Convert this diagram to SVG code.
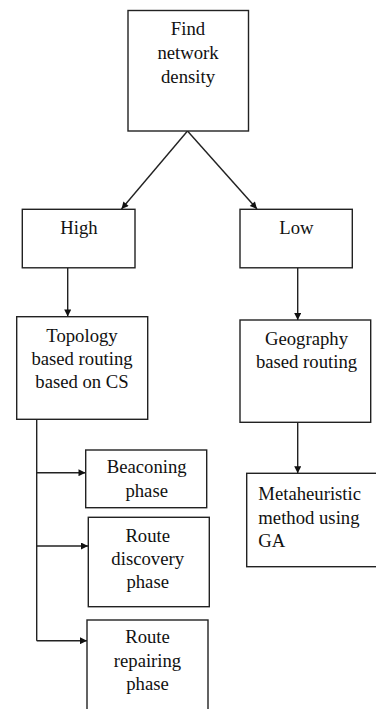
<svg xmlns="http://www.w3.org/2000/svg" width="376" height="709" viewBox="0 0 376 709">
<style>
.box{fill:#fff;stroke:#222;stroke-width:1.4}
.t{font-family:"Liberation Serif","Times New Roman",serif;font-size:18.7px;fill:#111;text-anchor:middle}
.l{text-anchor:start}
.c{fill:none;stroke:#222;stroke-width:1.4}
</style>
<defs>
<marker id="ah" viewBox="0 0 10 10" refX="10" refY="5" markerWidth="9" markerHeight="7" markerUnits="userSpaceOnUse" orient="auto">
<path d="M0,0 L10,5 L0,10 Z" fill="#111"/>
</marker>
</defs>
<rect width="376" height="709" fill="#fff"/>
<g id="connectors">
<line class="c" x1="187.5" y1="131" x2="121.5" y2="209" marker-end="url(#ah)"/>
<line class="c" x1="187.5" y1="131" x2="257" y2="209" marker-end="url(#ah)"/>
<line class="c" x1="67.7" y1="268" x2="67.7" y2="316.5" marker-end="url(#ah)"/>
<line class="c" x1="297.7" y1="268" x2="297.7" y2="320" marker-end="url(#ah)"/>
<line class="c" x1="297.7" y1="422" x2="297.7" y2="473.3" marker-end="url(#ah)"/>
<polyline class="c" points="36.7,419.3 36.7,640.7"/>
<line class="c" x1="36.7" y1="472.7" x2="85.5" y2="472.7" marker-end="url(#ah)"/>
<line class="c" x1="36.7" y1="546" x2="88" y2="546" marker-end="url(#ah)"/>
<line class="c" x1="36.7" y1="640.7" x2="87" y2="640.7" marker-end="url(#ah)"/>
</g>
<g id="find">
<rect class="box" x="128" y="10.5" width="120.5" height="120.5"/>
<text class="t" x="188" y="35">Find</text>
<text class="t" x="188" y="59">network</text>
<text class="t" x="188" y="83">density</text>
</g>
<g id="high">
<rect class="box" x="22.3" y="209.3" width="112.7" height="58.5"/>
<text class="t" x="79" y="233.5">High</text>
</g>
<g id="low">
<rect class="box" x="240" y="209.3" width="112.3" height="58.5"/>
<text class="t" x="296.5" y="233.5">Low</text>
</g>
<g id="topology">
<rect class="box" x="16.7" y="316.7" width="131" height="102.6"/>
<text class="t" x="82" y="341.7">Topology</text>
<text class="t" x="82" y="365">based routing</text>
<text class="t" x="82" y="388.3">based on CS</text>
</g>
<g id="geography">
<rect class="box" x="240" y="320" width="130.7" height="102.3"/>
<text class="t" x="306.5" y="345">Geography</text>
<text class="t" x="306.5" y="368.3">based routing</text>
</g>
<g id="metaheuristic">
<rect class="box" x="246.7" y="473.3" width="140" height="93.4"/>
<text class="t l" x="258.3" y="500">Metaheuristic</text>
<text class="t l" x="258.3" y="524">method using</text>
<text class="t l" x="258.3" y="547.3">GA</text>
</g>
<g id="beaconing">
<rect class="box" x="85.7" y="450" width="121" height="57.7"/>
<text class="t" x="146.7" y="473.3">Beaconing</text>
<text class="t" x="146.7" y="496.7">phase</text>
</g>
<g id="discovery">
<rect class="box" x="88.3" y="517.3" width="121" height="89.4"/>
<text class="t" x="147.7" y="541.7">Route</text>
<text class="t" x="147.7" y="565">discovery</text>
<text class="t" x="147.7" y="588.3">phase</text>
</g>
<g id="repairing">
<rect class="box" x="87" y="620" width="121" height="100"/>
<text class="t" x="147.5" y="643.3">Route</text>
<text class="t" x="147.5" y="666.7">repairing</text>
<text class="t" x="147.5" y="690">phase</text>
</g>
</svg>
